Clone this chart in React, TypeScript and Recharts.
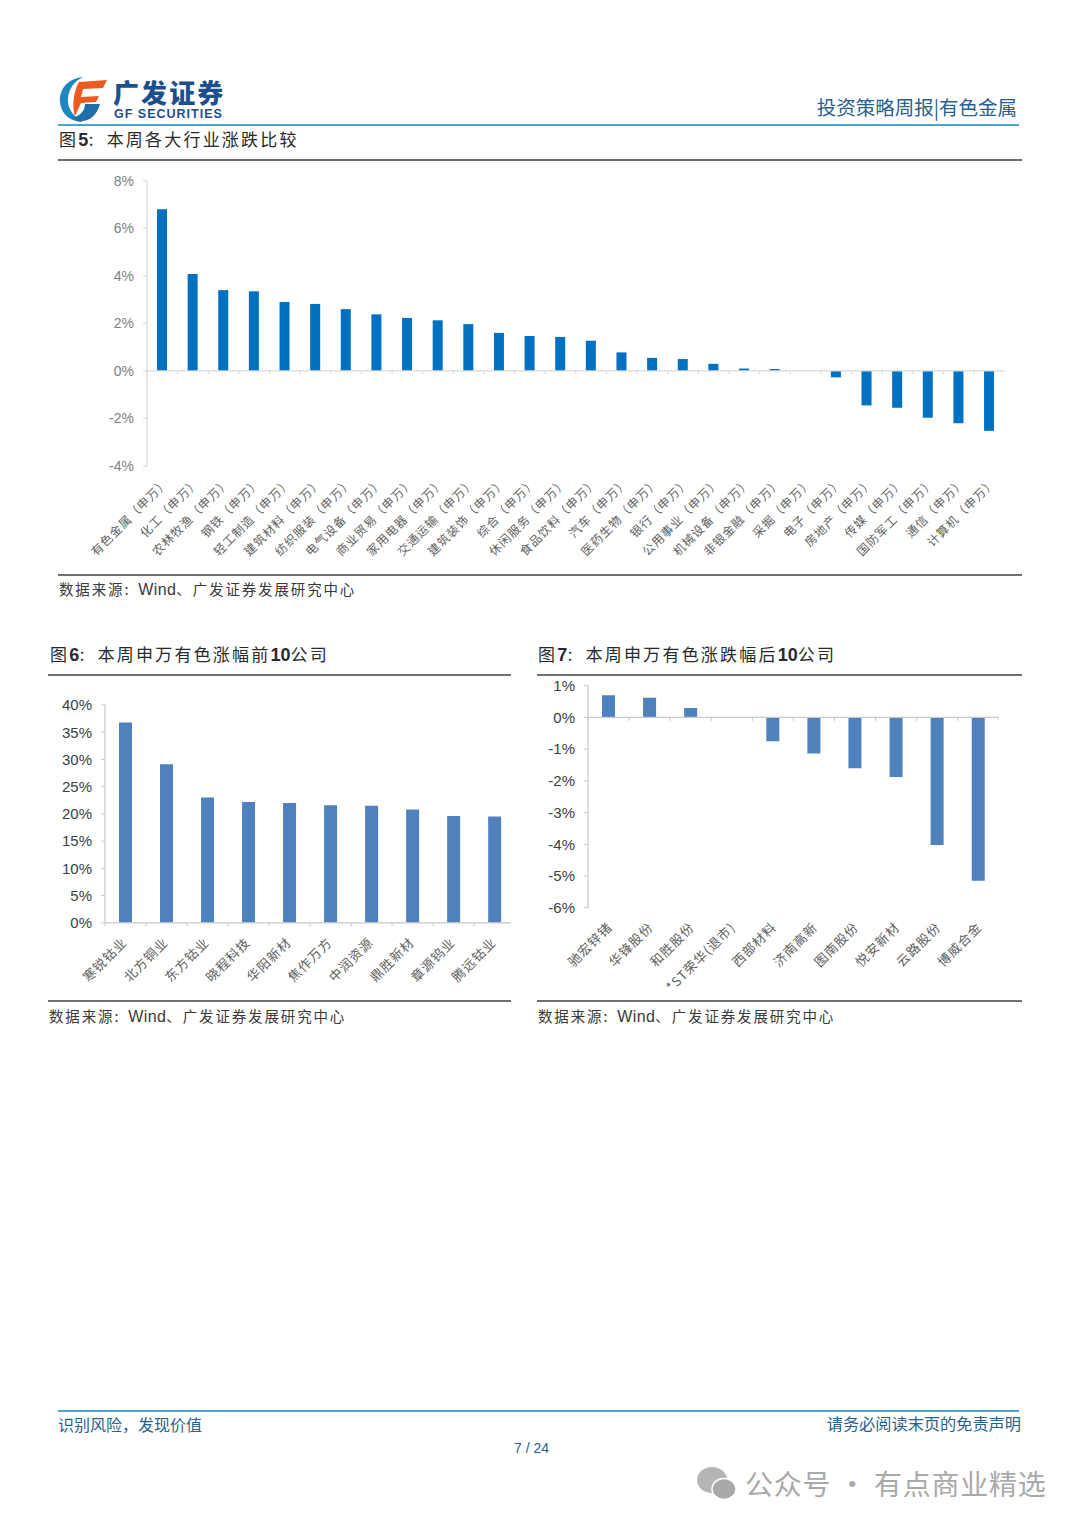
import React from "react";
import { BarChart, Bar, XAxis, YAxis, ReferenceLine } from "recharts";

const industryNames = ["有色金属\uFF08申万\uFF09","化工\uFF08申万\uFF09","农林牧渔\uFF08申万\uFF09","钢铁\uFF08申万\uFF09","轻工制造\uFF08申万\uFF09","建筑材料\uFF08申万\uFF09","纺织服装\uFF08申万\uFF09","电气设备\uFF08申万\uFF09","商业贸易\uFF08申万\uFF09","家用电器\uFF08申万\uFF09","交通运输\uFF08申万\uFF09","建筑装饰\uFF08申万\uFF09","综合\uFF08申万\uFF09","休闲服务\uFF08申万\uFF09","食品饮料\uFF08申万\uFF09","汽车\uFF08申万\uFF09","医药生物\uFF08申万\uFF09","银行\uFF08申万\uFF09","公用事业\uFF08申万\uFF09","机械设备\uFF08申万\uFF09","非银金融\uFF08申万\uFF09","采掘\uFF08申万\uFF09","电子\uFF08申万\uFF09","房地产\uFF08申万\uFF09","传媒\uFF08申万\uFF09","国防军工\uFF08申万\uFF09","通信\uFF08申万\uFF09","计算机\uFF08申万\uFF09"];
const industryValues = [6.8,4.08,3.4,3.35,2.9,2.82,2.6,2.38,2.23,2.13,1.97,1.6,1.47,1.43,1.27,0.78,0.55,0.5,0.3,0.1,0.08,0,-0.27,-1.45,-1.55,-1.97,-2.2,-2.52];
const industryTicks = [-4,-2,0,2,4,6,8];

const topNames = ["寒锐钴业","北方铜业","东方钴业","晓程科技","华阳新材","焦作万方","中润资源","鼎胜新材","章源钨业","腾远钴业"];
const topValues = [36.8,29.1,23,22.2,22,21.6,21.5,20.8,19.6,19.5];
const topTicks = [0,5,10,15,20,25,30,35,40];

const bottomNames = ["驰宏锌锗","华锋股份","和胜股份","*ST荣华(退市)","西部材料","济南高新","图南股份","悦安新材","云路股份","博威合金"];
const bottomValues = [0.7,0.62,0.3,0,-0.75,-1.14,-1.6,-1.88,-4.02,-5.15];
const bottomTicks = [-6,-5,-4,-3,-2,-1,0,1];

const CJK = '"Noto Sans CJK SC","Noto Sans",sans-serif';
const LAT = '"Liberation Sans",Arial,sans-serif';
const HEAD = "#2b5f8e";
const footerLeft = "识别风险\uFF0C发现价值";

function Panel(p: any) {
  const { names, values, ticks, color, barSize, plotLeft, plotRight, plotTop, plotBottom, clipRight, yColor, ySize, labelSize, labelSpacing, labelDx, labelDy, yLabelGap, top, axisColor } = p;
  const data = names.map((name: string, i: number) => ({ name, value: values[i] }));
  const left = plotLeft - 80;
  const height = plotBottom - top + 130;
  const width = plotRight - left;
  const lo = ticks[0], hi = ticks[ticks.length - 1];
  const plotH = plotBottom - plotTop;
  const zeroY = plotBottom - top - ((0 - lo) / (hi - lo)) * plotH;
  const band = (plotRight - plotLeft) / names.length;
  const Tick = (t: any) => {
    const isLast = t.index === names.length - 1;
    return (
      <g>
        <line x1={t.x - band / 2} x2={t.x - band / 2} y1={zeroY} y2={zeroY + 3.5} stroke={axisColor} strokeWidth={1} />
        {isLast && <line x1={t.x + band / 2} x2={t.x + band / 2} y1={zeroY} y2={zeroY + 3.5} stroke={axisColor} strokeWidth={1} />}
        <text
          transform={`translate(${t.x + labelDx},${t.y + labelDy}) rotate(-45)`}
          textAnchor="end"
          fontFamily={CJK}
          fontSize={labelSize}
          letterSpacing={labelSpacing}
          fill="#5f5f5f"
          dominantBaseline="middle"
        >
          {t.payload.value}
        </text>
      </g>
    );
  };
  return (
    <div style={{ position: "absolute", left, top, width: clipRight - left, height, overflow: "hidden" }}>
      <BarChart width={width} height={height} data={data} margin={{ top: plotTop - top, right: 0, bottom: 0, left: 0 }} barCategoryGap={0}>
        <YAxis
          width={80}
          domain={[lo, hi]}
          ticks={ticks}
          interval={0}
          allowDataOverflow
          tickFormatter={(v: number) => `${v}%`}
          tick={{ fill: yColor, fontSize: ySize, fontFamily: LAT }}
          tickSize={4}
          tickMargin={yLabelGap}
          tickLine={{ stroke: axisColor }}
          axisLine={{ stroke: axisColor, strokeWidth: 1.2 }}
        />
        <XAxis
          dataKey="name"
          height={height - (plotBottom - top)}
          interval={0}
          axisLine={false}
          tickLine={false}
          tick={<Tick />}
          tickMargin={0}
        />
        <ReferenceLine y={0} stroke={axisColor} strokeWidth={1.2} />
        <Bar dataKey="value" fill={color} barSize={barSize} isAnimationActive={false} />
      </BarChart>
    </div>
  );
}

const T = ({ x, y, size, color = "#222", children, family = CJK, weight = 400, right, spacing = 0, lh = 1.3 }: any) => (
  <div style={{ position: "absolute", left: right === undefined ? x : undefined, right, top: y - (size * lh) / 2, lineHeight: `${size * lh}px`, height: size * lh, fontSize: size, color, fontFamily: family, fontWeight: weight, letterSpacing: spacing, whiteSpace: "nowrap" }}>
    {children}
  </div>
);
const Rule = ({ x1, x2, y, color = "#6f6f6f", h = 1.4 }: any) => (
  <div style={{ position: "absolute", left: x1, width: x2 - x1, top: y - h / 2, height: h, background: color }} />
);
const Title = ({ x, y, num, before, text, after }: any) => (
  <T x={x} y={y - 1} size={17} spacing={2.2} color="#2a2a2a">
    图<b style={{ fontFamily: LAT, fontSize: 18, letterSpacing: 0.5 }}>{num}</b>:<span style={{ marginLeft: 11 }}>{text}</span>
    {before !== undefined && <b style={{ fontFamily: LAT, fontSize: 18, letterSpacing: 0 }}>{before}</b>}
    {after}
  </T>
);
const Source = ({ x, y }: any) => (
  <T x={x} y={y - 1} size={14.5} spacing={1.85} color="#3a3a3a">
    数据来源:<span style={{ fontFamily: LAT, marginLeft: 8, letterSpacing: 0.4, fontSize: 16 }}>Wind</span>、广发证券发展研究中心
  </T>
);

export default function App() {
  return (
    <div style={{ position: "absolute", left: 0, top: 0, width: 1080, height: 1527, background: "#fff", overflow: "hidden" }}>
      <svg style={{ position: "absolute", left: 55, top: 72 }} width={60} height={56} viewBox="0 0 60 56">
        <path d="M28 5 C10 7 4 20 5 30 C6 42 15 50 28 50 C18 44 12 36 13 26 C14 16 20 9 28 5Z" fill="#1f86c4" />
        <path d="M17 46 C26 52 40 50 45 32 L30 32 C30 38 26 44 17 46Z" fill="#1f6fa8" />
        <path d="M24 10 L52 8 L48 16 L28 17 L26 25 L44 24 L41 30 L26 31 L20 44 C17 36 18 20 24 10Z" fill="#ee5a1e" />
      </svg>
      <T x={113} y={92} size={26} color="#1d4f8d" weight={900} spacing={2.1} lh={0.9}>广发证券</T>
      <T x={114} y={115} size={12.5} color="#1d4f8d" weight={700} family={LAT} spacing={1} lh={0.9}>GF SECURITIES</T>
      <T right={63} y={107} size={19.5} color={HEAD}>投资策略周报|有色金属</T>
      <Rule x1={58} x2={1019} y={125} color="#4ba6cf" h={2} />

      <Title x={59} y={140} num="5" text="本周各大行业涨跌比较" />
      <Rule x1={58} x2={1022} y={160} />
      <Panel names={industryNames} values={industryValues} ticks={industryTicks} color="#0070c0" barSize={10}
        plotLeft={146.7} plotRight={1004.4} plotTop={180.8} plotBottom={466} clipRight={1010} top={165}
        yColor="#808080" ySize={14} labelSize={12} labelSpacing={1} labelDx={5} labelDy={9} yLabelGap={9} axisColor="#d9d9d9" />
      <Rule x1={58} x2={1022} y={575} />
      <Source x={59} y={590} />

      <Title x={50} y={655} num="6" text="本周申万有色涨幅前" before="10" after="公司" />
      <Rule x1={48} x2={511} y={675} />
      <Panel names={topNames} values={topValues} ticks={topTicks} color="#4f81bd" barSize={13}
        plotLeft={105.4} plotRight={515.6} plotTop={705} plotBottom={922.8} clipRight={511} top={690}
        yColor="#404040" ySize={15} labelSize={13} labelSpacing={1} labelDx={0} labelDy={12} yLabelGap={9} axisColor="#c8c8c8" />
      <Rule x1={48} x2={511} y={1001} />
      <Source x={49} y={1017} />

      <Title x={538} y={655} num="7" text="本周申万有色涨跌幅后" before="10" after="公司" />
      <Rule x1={537} x2={1022} y={675} />
      <Panel names={bottomNames} values={bottomValues} ticks={bottomTicks} color="#4f81bd" barSize={13}
        plotLeft={588.2} plotRight={999} plotTop={685.7} plotBottom={907.7} clipRight={1005} top={677}
        yColor="#404040" ySize={15} labelSize={13} labelSpacing={1} labelDx={2} labelDy={12} yLabelGap={9} axisColor="#c8c8c8" />
      <Rule x1={537} x2={1022} y={1001} />
      <Source x={538} y={1017} />

      <Rule x1={58} x2={1019} y={1411} color="#4ba6cf" h={2} />
      <T x={58} y={1424} size={16} color={HEAD}>{footerLeft}</T>
      <T right={59} y={1424} size={16.2} color={HEAD}>请务必阅读末页的免责声明</T>
      <T x={514} y={1448} size={14} color={HEAD} family={LAT}>7 / 24</T>

      <svg style={{ position: "absolute", left: 696, top: 1466 }} width={42} height={36} viewBox="0 0 42 36">
        <ellipse cx={16} cy={14} rx={15} ry={13} fill="#b5b5b5" />
        <ellipse cx={28} cy={23} rx={12} ry={10.5} fill="#a8a8a8" stroke="#fff" strokeWidth={1.5} />
      </svg>
      <T x={745} y={1483} size={28} color="#a9a9a9" spacing={0.75}>公众号 · 有点商业精选</T>
    </div>
  );
}
